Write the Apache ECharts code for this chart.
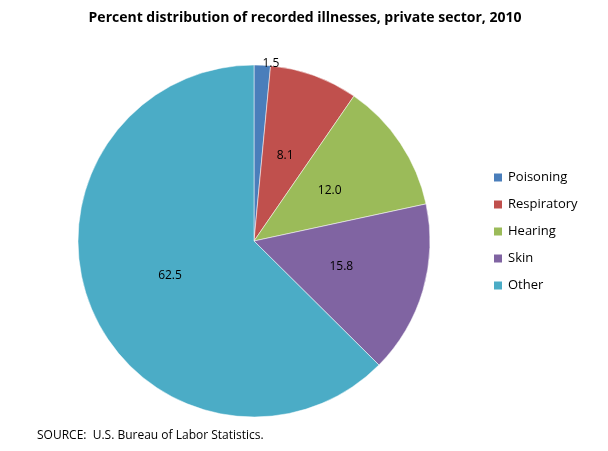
<!DOCTYPE html>
<html>
<head>
<meta charset="utf-8">
<script src="https://cdn.jsdelivr.net/npm/echarts@6/dist/echarts.min.js"></script>
<style>html,body{margin:0;padding:0;background:#fff}#chart{width:608px;height:451px}</style>
</head>
<body>
<div id="chart"></div>
<script>
const categories = ['Poisoning', 'Respiratory', 'Hearing', 'Skin', 'Other']
const values = [1.5, 8.1, 12.0, 15.8, 62.5]
const colors = ['#4a7ebb', '#c0504d', '#9bbb59', '#8064a2', '#4bacc6']

const chart = echarts.init(document.getElementById('chart'))
chart.setOption({
	animation: false,
	title: {
		text: 'Percent distribution of recorded illnesses, private sector, 2010',
		left: 300,
		textAlign: 'center',
		top: 6,
		textStyle: { fontFamily: 'Open Sans', fontSize: 14, fontWeight: 'bold', color: '#000' }
	},
	legend: {
		orient: 'vertical',
		left: 487,
		top: 166,
		itemGap: 14,
		itemWidth: 10,
		itemHeight: 10,
		icon: 'rect',
		data: categories,
		textStyle: { fontFamily: 'Open Sans', fontSize: 13, color: '#000' }
	},
	graphic: [{
		type: 'text',
		left: 37,
		top: 430,
		style: { text: 'SOURCE:  U.S. Bureau of Labor Statistics.', fontFamily: 'Open Sans', fontSize: 12, fill: '#000' }
	}],
	series: [{
		type: 'pie',
		center: [254, 241],
		radius: 176,
		startAngle: 90,
		clockwise: true,
		color: colors,
		label: {
			position: 'inside',
			formatter: p => p.value.toFixed(1),
			fontFamily: 'Open Sans',
			fontSize: 12,
			color: '#000'
		},
		labelLine: { show: false },
		itemStyle: { borderColor: '#fff', borderWidth: 0.5 },
		data: categories.map((c, i) => ({
			name: c,
			value: values[i],
			label: i === 0 ? { position: 'outside', distanceToLabelLine: 0 } : undefined,
			labelLine: i === 0 ? { show: false, length: 2, length2: 0 } : undefined
		}))
	}]
})
</script>
</body>
</html>
